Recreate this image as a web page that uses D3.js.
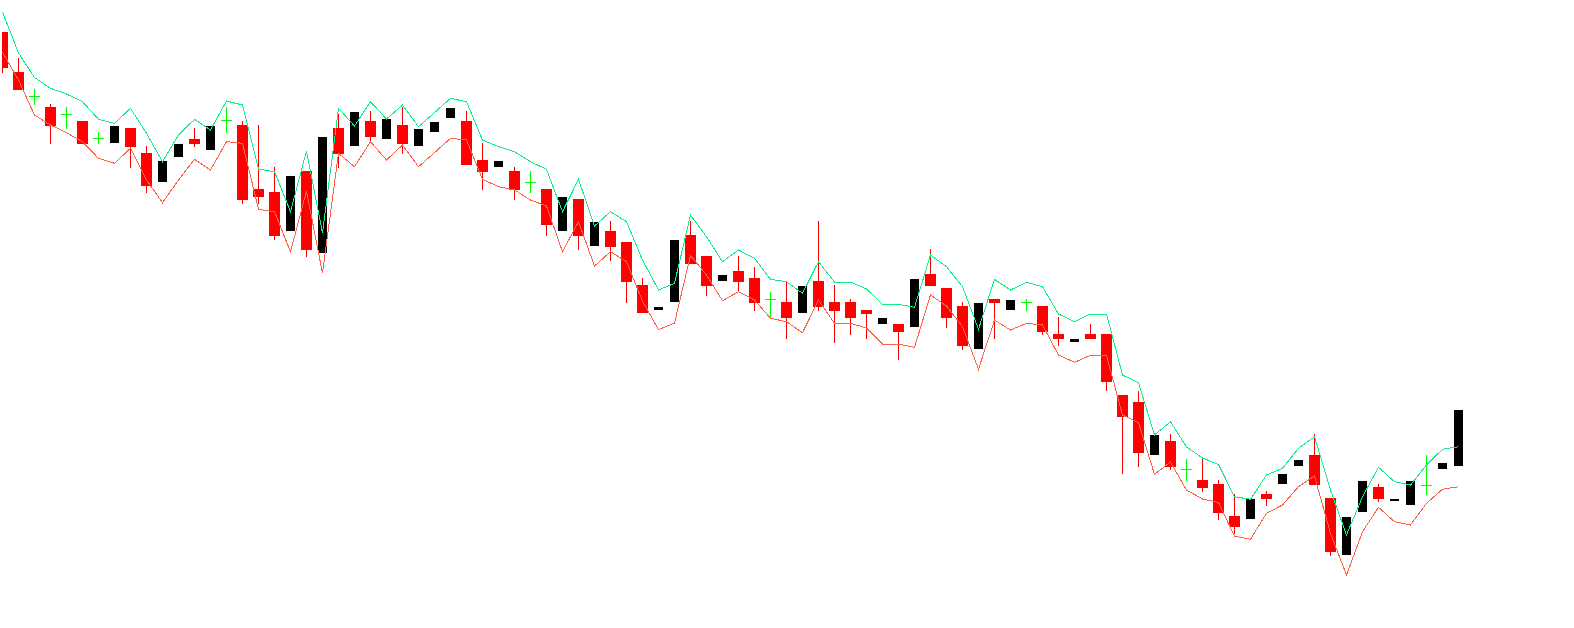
<!DOCTYPE html>
<html>
<head>
<meta charset="utf-8">
<script src="https://cdn.jsdelivr.net/npm/d3@7"></script>
<style>
  html, body { margin: 0; padding: 0; background: #ffffff; overflow: hidden; }
  svg { display: block; }
</style>
</head>
<body>
<svg id="chart" width="1574" height="628"></svg>
<script>
// candles: [open, high, low, close] (arbitrary price units)
const opens = [596, 556, 532, 521, 514, 507, 490, 485, 500, 475, 446, 471, 489, 478, 508, 503, 439, 436, 397, 457,
  375, 500, 482, 507, 489, 503, 482, 496, 510, 507, 468, 461, 457, 446, 439, 397, 429, 382, 397, 386,
  343, 318, 326, 393, 372, 347, 357, 350, 329, 326, 315, 347, 326, 326, 318, 304, 304, 301, 354, 340,
  322, 279, 329, 318, 326, 322, 294, 286, 294, 294, 233, 226, 173, 187, 159, 148, 144, 112, 109, 134,
  144, 162, 173, 130, 73, 116, 141, 127, 123, 143, 159, 162];
const highs = [596, 570, 539, 524, 521, 507, 496, 502, 500, 482, 467, 484, 500, 502, 521, 507, 503, 461, 452, 457,
  491, 514, 516, 517, 509, 521, 499, 506, 520, 517, 485, 467, 461, 457, 439, 431, 429, 406, 407, 386,
  350, 321, 388, 407, 372, 353, 372, 361, 336, 347, 342, 407, 343, 329, 318, 310, 304, 349, 379, 340,
  326, 325, 329, 328, 329, 322, 311, 289, 304, 294, 233, 237, 193, 194, 169, 169, 148, 134, 129, 137,
  154, 168, 194, 130, 111, 147, 144, 129, 147, 173, 165, 218];
const lows = [555, 538, 523, 484, 499, 484, 484, 485, 460, 435, 446, 471, 481, 478, 495, 424, 424, 388, 397, 371,
  375, 460, 482, 485, 489, 474, 482, 496, 510, 463, 438, 461, 428, 435, 392, 397, 378, 382, 367, 325,
  315, 318, 326, 364, 332, 347, 336, 317, 310, 289, 315, 317, 285, 293, 289, 304, 268, 301, 342, 300,
  278, 279, 289, 318, 317, 293, 282, 286, 289, 237, 154, 161, 173, 158, 147, 136, 108, 94, 109, 122,
  144, 162, 143, 72, 73, 116, 126, 127, 123, 133, 159, 162];
const closes = [560, 538, 532, 502, 514, 484, 490, 502, 481, 442, 467, 484, 484, 502, 508, 428, 431, 392, 452, 378,
  491, 474, 516, 491, 509, 484, 499, 506, 520, 463, 456, 467, 438, 446, 403, 431, 392, 406, 381, 346,
  315, 321, 388, 364, 342, 353, 346, 325, 329, 310, 342, 321, 317, 310, 314, 310, 296, 349, 342, 310,
  282, 325, 325, 328, 326, 296, 289, 289, 289, 246, 211, 175, 193, 161, 159, 140, 115, 101, 129, 129,
  154, 168, 143, 76, 111, 147, 129, 129, 147, 143, 165, 218];

// envelope lines
const upperBand = [616, 575, 550.5, 539.7, 534, 526.3, 508.7, 504.7, 519.7, 494.7, 466.3, 493, 508.7, 498, 527, 523, 459, 456.3, 416.3, 477,
  395, 519.7, 502, 526.3, 509, 523, 501.3, 515.3, 529.7, 526.3, 488, 481.3, 476.3, 466.3, 458.7, 416.3, 448.7, 402, 416.3, 406.3,
  368, 338, 344.7, 413, 391.3, 366.3, 378, 369.7, 348.7, 346.3, 334.7, 366.3, 346, 346, 339, 323.7, 323.7, 320.7, 373, 361.3,
  341.3, 298.7, 348.7, 338, 345.7, 341.3, 314, 306.3, 314, 314, 253, 245.3, 193, 206.3, 181, 170, 163.5, 131.3, 128.7, 153,
  159.7, 179.7, 191.3, 138, 93, 131.3, 160.7, 146.3, 143, 163, 178.7, 181.3];
const lowerBand = [576, 548, 513, 503, 495.3, 486.3, 469.7, 464.7, 479.7, 448, 425.3, 448, 468.7, 458, 486.3, 484.7, 418.7, 416.3, 376.3, 437,
  354.7, 474.7, 461.3, 486.3, 468, 483, 461.3, 475.3, 489.7, 488, 448.7, 441.3, 438, 428, 422, 376.3, 406.3, 362, 376.3, 366.3,
  327, 298.3, 305, 372.5, 353, 327.3, 336.3, 328, 309.7, 306.3, 295.3, 328, 304.7, 304.7, 300, 284, 284, 280.7, 333, 322,
  301.3, 258.7, 308, 298, 304.7, 303, 273, 265.7, 272.8, 272.5, 213, 205.3, 153.7, 166, 138, 129, 125.5, 92, 88.7, 114.7,
  123, 141.3, 152, 94.7, 53, 96.3, 120.7, 106.3, 103, 124.7, 138.7, 141.3];

const color_down = '#ff0000';
const color_up = '#000000';
const color_doji = '#00ff00';
const color_upper = '#10ee8c';
const color_lower = '#ff6347';

const svg = d3.select('svg#chart'),
  width = +svg.attr('width'),
  height = +svg.attr('height');

const candles = opens.map((o, i) => ({ i, open: o, high: highs[i], low: lows[i], close: closes[i] }));

const x = d3.scaleLinear().domain([0, candles.length - 1]).range([2.5, 1458.5]);
const y = d3.scaleLinear().domain([0, height]).range([height, 0]);

svg.append('rect').attr('width', width).attr('height', height).attr('fill', '#ffffff');

svg.append('clipPath').attr('id', 'plot_clip')
  .append('rect')
  .attr('x', 2).attr('y', 0).attr('width', width - 2).attr('height', height);

const plot = svg.append('g')
  .attr('clip-path', 'url(#plot_clip)')
  .attr('shape-rendering', 'crispEdges');

const kind = d => (d.open === d.close ? 'doji' : (d.close < d.open ? 'down' : 'up'));

// wicks for red and doji candles (black candles show no wick)
plot.append('g')
  .selectAll('rect')
  .data(candles.filter(d => kind(d) !== 'up'))
  .join('rect')
  .attr('x', d => Math.floor(x(d.i)))
  .attr('width', 1)
  .attr('y', d => Math.round(y(d.high)))
  .attr('height', d => Math.max(1, Math.round(y(d.low)) - Math.round(y(d.high))))
  .attr('fill', d => (kind(d) === 'doji' ? color_doji : color_down));

// bodies
plot.append('g')
  .selectAll('rect')
  .data(candles)
  .join('rect')
  .attr('x', d => Math.round(x(d.i) - (kind(d) === 'up' ? 4.5 : 5.5)))
  .attr('width', d => (kind(d) === 'up' ? 9 : 11))
  .attr('y', d => Math.round(y(Math.max(d.open, d.close))))
  .attr('height', d => Math.max(1, Math.round(y(Math.min(d.open, d.close))) - Math.round(y(Math.max(d.open, d.close)))))
  .attr('fill', d => ({ doji: color_doji, down: color_down, up: color_up })[kind(d)]);

// envelope lines sit on top of the candles
const line = d3.line().x((d, i) => x(i)).y(d => y(d));

plot.append('path')
  .datum(upperBand)
  .attr('d', line)
  .attr('fill', 'none')
  .attr('stroke', color_upper)
  .attr('stroke-width', 1);

plot.append('path')
  .datum(lowerBand)
  .attr('d', line)
  .attr('fill', 'none')
  .attr('stroke', color_lower)
  .attr('stroke-width', 1);
</script>
</body>
</html>
